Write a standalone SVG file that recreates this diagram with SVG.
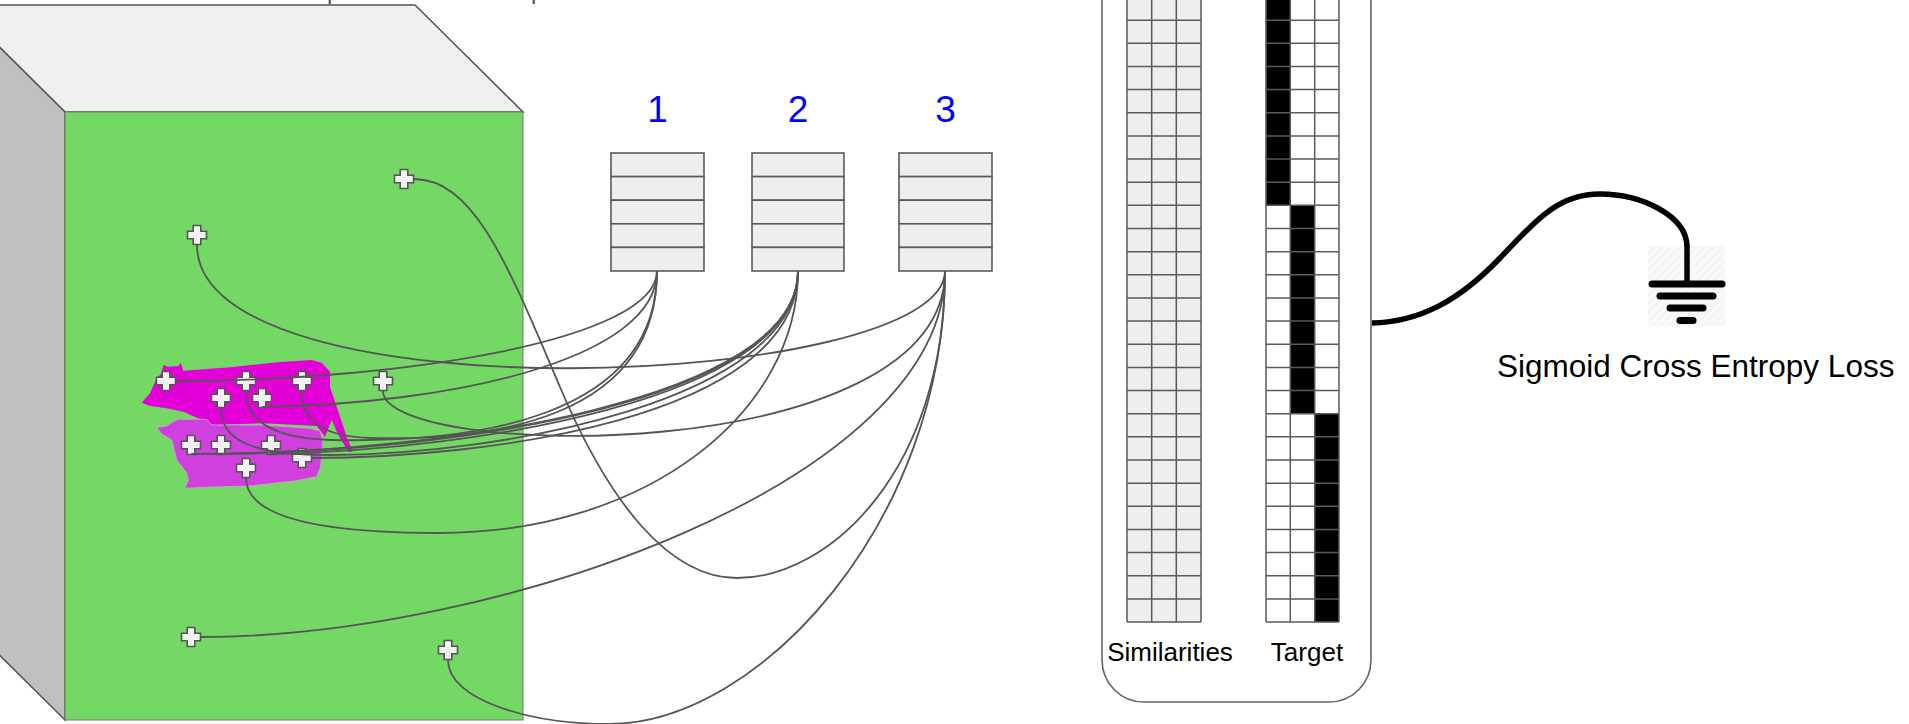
<svg xmlns="http://www.w3.org/2000/svg" width="1909" height="724" viewBox="0 0 1909 724">
  <style>
    .edge { fill: none; stroke: #555555; stroke-width: 1.8; }
    .cell { fill: #EEEEEE; stroke: #5a5a5a; stroke-width: 1.6; }
    .grid { fill: none; stroke: #5a5a5a; stroke-width: 1.5; }
    .num { font-family: "Liberation Sans", Arial, sans-serif; font-size: 37px; fill: #0000FF; text-anchor: middle; }
    .lbl { font-family: "Liberation Sans", Arial, sans-serif; font-size: 26px; fill: #000; text-anchor: middle; }
    .cap { font-family: "Liberation Sans", Arial, sans-serif; font-size: 31.5px; fill: #000; }
    .gnd { stroke: #000; stroke-linecap: round; fill: none; }
  </style>
  <defs>
    <path id="plus" d="M-3.8,-9.5 h7.6 v5.7 h5.7 v7.6 h-5.7 v5.7 h-7.6 v-5.7 h-5.7 v-7.6 h5.7 z" fill="#F2F2F2" stroke="#555" stroke-width="1.6"/>
    <pattern id="hatch" width="6" height="6" patternUnits="userSpaceOnUse" patternTransform="rotate(45)">
      <rect width="6" height="6" fill="#f9f9f9"/>
      <line x1="0" y1="0" x2="0" y2="6" stroke="#efefef" stroke-width="2"/>
    </pattern>
  </defs>
  <rect width="1909" height="724" fill="#ffffff"/>

  <!-- caption above the image block (only its descenders fall inside the canvas) -->
  <g id="caption-top" fill="#555" font-family="Liberation Sans, Arial, sans-serif" font-size="24">
    <text x="327" y="-1">p</text>
    <text x="531" y="-1">p</text>
  </g>

  <!-- image volume -->
  <g id="image-block">
    <polygon points="-43,5 415,5 523,112 65,112" fill="#F0F0F0" stroke="#555" stroke-width="1.5"/>
    <polygon points="-43,5 65,112 65,720 -43,613" fill="#C0C0C0" stroke="#555" stroke-width="1.5"/>
    <rect x="65" y="112" width="458" height="608" fill="#74D865" stroke="#777" stroke-width="1"/>
    <!-- cow masks -->
    <path d="M141.7,402.7 L150,393.3 L156.7,378.3 L161.7,373.3 L163.3,365 L168.3,366.7 L178.3,366 L180.7,362.7 L183.3,370.7 L230,367.3 L280,362 L311.7,360 L321.7,362.7 L330,371.7 L330,386.7 L336.7,406.7 L346.7,436.7 L352.7,451.7 L348.3,451.7 L338.3,435 L331.7,420 L325,436.7 L316.7,426 L263.3,423.3 L213.3,425 L201.7,420 L183.3,411.7 L166.7,408.3 L150,406 Z" fill="#E400D8"/>
    <path d="M156.7,427.3 L166.7,426 L173.3,421.7 L178.3,419.3 L206.7,419.3 L211.7,425 L263.3,425 L310,428.3 L320,430.7 L322.7,440 L320.7,466.7 L316.7,476.7 L296.7,480.7 L250,486 L203.3,487.3 L185,488.3 L188.3,480 L186.7,473.3 L176.7,460 L171.7,440 L161.7,434 Z" fill="#CF40DF" stroke="#c9a9c9" stroke-width="0.8"/>
  </g>

  <!-- sampled points -->
  <g id="points">
    <use href="#plus" x="404" y="179"/>
    <use href="#plus" x="197" y="235"/>
    <use href="#plus" x="166" y="381"/>
    <use href="#plus" x="246" y="381"/>
    <use href="#plus" x="302" y="381"/>
    <use href="#plus" x="383" y="381"/>
    <use href="#plus" x="221" y="398"/>
    <use href="#plus" x="262" y="398"/>
    <use href="#plus" x="191" y="445"/>
    <use href="#plus" x="221" y="445"/>
    <use href="#plus" x="271" y="445"/>
    <use href="#plus" x="302" y="458"/>
    <use href="#plus" x="246" y="468"/>
    <use href="#plus" x="191" y="637"/>
    <use href="#plus" x="448" y="650"/>
  </g>

  <!-- feature stacks -->
  <g id="stack-1">
    <text class="num" x="657.5" y="122">1</text>
    <rect class="cell" x="611" y="153" width="93" height="23.6"/>
    <rect class="cell" x="611" y="176.6" width="93" height="23.6"/>
    <rect class="cell" x="611" y="200.2" width="93" height="23.6"/>
    <rect class="cell" x="611" y="223.8" width="93" height="23.6"/>
    <rect class="cell" x="611" y="247.4" width="93" height="23.6"/>
  </g>
  <g id="stack-2">
    <text class="num" x="798" y="122">2</text>
    <rect class="cell" x="752" y="153" width="92" height="23.6"/>
    <rect class="cell" x="752" y="176.6" width="92" height="23.6"/>
    <rect class="cell" x="752" y="200.2" width="92" height="23.6"/>
    <rect class="cell" x="752" y="223.8" width="92" height="23.6"/>
    <rect class="cell" x="752" y="247.4" width="92" height="23.6"/>
  </g>
  <g id="stack-3">
    <text class="num" x="945.5" y="122">3</text>
    <rect class="cell" x="899" y="153" width="93" height="23.6"/>
    <rect class="cell" x="899" y="176.6" width="93" height="23.6"/>
    <rect class="cell" x="899" y="200.2" width="93" height="23.6"/>
    <rect class="cell" x="899" y="223.8" width="93" height="23.6"/>
    <rect class="cell" x="899" y="247.4" width="93" height="23.6"/>
  </g>

  <!-- point-to-stack links -->
  <g id="connectors">
    <path class="edge" d="M414,179 C475,179 510,270 560,387 C610,505 670,578 737,578 C830,578 945,470 945,271"/>
    <path class="edge" d="M197,245 C197,420 945,390 945,271"/>
    <path class="edge" d="M175,381 C400,381 657,340 657,271"/>
    <path class="edge" d="M246,391 C246,420 270,438 330,440 C470,443 657,420 657,271"/>
    <path class="edge" d="M302,391 C302,420 320,436 370,438 C490,441 657,420 657,271"/>
    <path class="edge" d="M383,391 C383,460 945,470 945,271"/>
    <path class="edge" d="M221,408 C221,440 250,455 330,455 C500,455 798,400 798,271"/>
    <path class="edge" d="M262,407 C450,404 657,360 657,271"/>
    <path class="edge" d="M191,454 C450,453 798,400 798,271"/>
    <path class="edge" d="M221,454 C460,451 798,400 798,271"/>
    <path class="edge" d="M271,454 C470,450 798,400 798,271"/>
    <path class="edge" d="M312,458 C480,458 798,420 798,271"/>
    <path class="edge" d="M246,478 C246,520 330,533 439,533 C650,533 798,410 798,271"/>
    <path class="edge" d="M201,637 C500,637 945,480 945,271"/>
    <path class="edge" d="M448,660 C448,700 530,724 609,724 C760,724 945,520 945,271"/>
    <path d="M1372,323 C1420,322 1460,300 1500,258 C1540,216 1560,194 1600,194 C1640,194 1687,215 1687,247" fill="none" stroke="#000" stroke-width="5.5"/>
  </g>

  <!-- similarity / target panel -->
  <g id="loss-panel">
    <rect x="1102" y="-80" width="269" height="782" rx="42" ry="42" fill="#fff" stroke="#666" stroke-width="1.6"/>
    <rect x="1127" y="-3" width="74" height="625" fill="#EEEEEE"/>
    <rect x="1266" y="-3" width="73" height="625" fill="#fff"/>
    <rect x="1266" y="-3" width="24.3" height="208.35" fill="#000"/>
    <rect x="1290.3" y="205.35" width="24.4" height="208.35" fill="#000"/>
    <rect x="1314.7" y="413.7" width="24.3" height="208.35" fill="#000"/>
    <path class="grid" d="M1127,-3 V622 M1151.7,-3 V622 M1176.3,-3 V622 M1201,-3 V622 M1266,-3 V622 M1290.3,-3 V622 M1314.7,-3 V622 M1339,-3 V622"/>
    <path class="grid" d="M1127,20.15 H1201 M1127,43.3 H1201 M1127,66.45 H1201 M1127,89.6 H1201 M1127,112.75 H1201 M1127,135.9 H1201 M1127,159.05 H1201 M1127,182.2 H1201 M1127,205.35 H1201 M1127,228.5 H1201 M1127,251.65 H1201 M1127,274.8 H1201 M1127,297.95 H1201 M1127,321.1 H1201 M1127,344.25 H1201 M1127,367.4 H1201 M1127,390.55 H1201 M1127,413.7 H1201 M1127,436.85 H1201 M1127,460 H1201 M1127,483.15 H1201 M1127,506.3 H1201 M1127,529.45 H1201 M1127,552.6 H1201 M1127,575.75 H1201 M1127,598.9 H1201 M1127,622.05 H1201"/>
    <path class="grid" d="M1266,20.15 H1339 M1266,43.3 H1339 M1266,66.45 H1339 M1266,89.6 H1339 M1266,112.75 H1339 M1266,135.9 H1339 M1266,159.05 H1339 M1266,182.2 H1339 M1266,205.35 H1339 M1266,228.5 H1339 M1266,251.65 H1339 M1266,274.8 H1339 M1266,297.95 H1339 M1266,321.1 H1339 M1266,344.25 H1339 M1266,367.4 H1339 M1266,390.55 H1339 M1266,413.7 H1339 M1266,436.85 H1339 M1266,460 H1339 M1266,483.15 H1339 M1266,506.3 H1339 M1266,529.45 H1339 M1266,552.6 H1339 M1266,575.75 H1339 M1266,598.9 H1339 M1266,622.05 H1339"/>
    <text class="lbl" x="1170" y="661">Similarities</text>
    <text class="lbl" x="1307" y="661">Target</text>
  </g>

  <!-- loss sink -->
  <g id="loss">
    <rect x="1648" y="246" width="78" height="80" fill="url(#hatch)"/>
    <line class="gnd" x1="1687" y1="246" x2="1687" y2="284" stroke-width="5.5" stroke-linecap="butt"/>
    <line class="gnd" x1="1652" y1="284" x2="1722" y2="284" stroke-width="7"/>
    <line class="gnd" x1="1660" y1="296" x2="1713" y2="296" stroke-width="7"/>
    <line class="gnd" x1="1670" y1="308" x2="1703" y2="308" stroke-width="7"/>
    <line class="gnd" x1="1680" y1="320.5" x2="1693" y2="320.5" stroke-width="7"/>
    <text class="cap" x="1497" y="377">Sigmoid Cross Entropy Loss</text>
  </g>
</svg>
